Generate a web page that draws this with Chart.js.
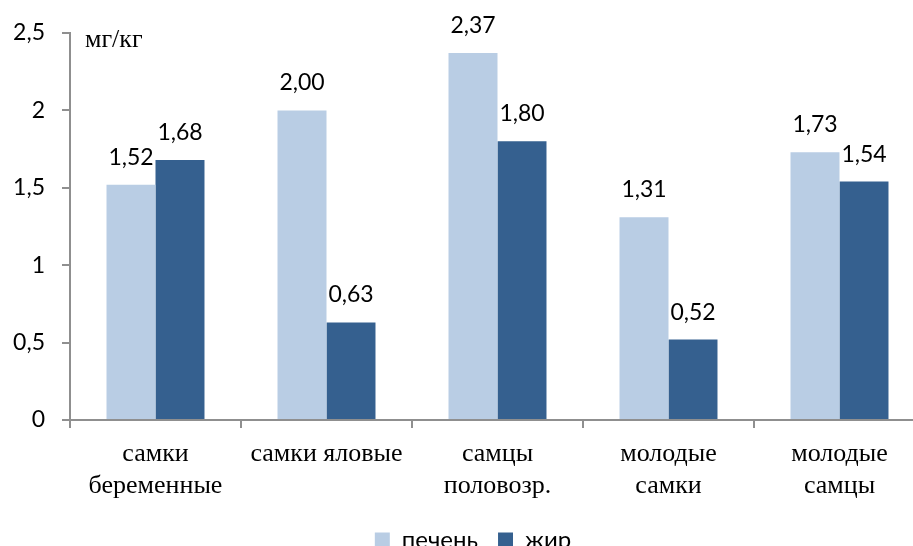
<!DOCTYPE html>
<html>
<head>
<meta charset="utf-8">
<script src="https://cdn.jsdelivr.net/npm/chart.js@4"></script>
<style>
  html, body { margin: 0; padding: 0; overflow: hidden; background: #fff; }
  #wrap { position: absolute; left: 0; top: 0; width: 951px; height: 562px; }
</style>
</head>
<body>
<div id="wrap"><canvas id="chart" width="951" height="562"></canvas></div>
<script>
// categories and values
const categories = [
  ['самки', 'беременные'],
  ['самки яловые'],
  ['самцы', 'половозр.'],
  ['молодые', 'самки'],
  ['молодые', 'самцы']
];
const liver = [1.52, 2.00, 2.37, 1.31, 1.73];
const fat = [1.68, 0.63, 1.80, 0.52, 1.54];
const seriesNames = ['печень', 'жир'];
const unitLabel = 'мг/кг';

const numFont = "Lato, 'Open Sans', sans-serif";
const serifFont = "'Liberation Serif', 'DejaVu Serif', serif";
const axisGray = '#8f8f8f';

function comma(v, digits) {
  return (digits == null ? String(v) : v.toFixed(digits)).replace('.', ',');
}

// value labels above bars + the unit text
const labelsPlugin = {
  id: 'barLabels',
  afterDatasetsDraw(chart) {
    const ctx = chart.ctx;
    ctx.save();
    ctx.font = '23px ' + numFont;
    ctx.fillStyle = '#000';
    ctx.textAlign = 'center';
    ctx.textBaseline = 'alphabetic';
    chart.data.datasets.forEach((ds, i) => {
      chart.getDatasetMeta(i).data.forEach((bar, j) => {
        ctx.fillText(comma(ds.data[j], 2), bar.x, bar.y - 20);
      });
    });
    const area = chart.chartArea;
    ctx.font = '26px ' + serifFont;
    ctx.textAlign = 'left';
    ctx.fillText(unitLabel, area.left + 15, area.top + 14);
    ctx.restore();
  }
};

new Chart(document.getElementById('chart'), {
  type: 'bar',
  data: {
    labels: categories,
    datasets: [
      { label: seriesNames[0], data: liver, backgroundColor: '#b9cde4', borderWidth: 0 },
      { label: seriesNames[1], data: fat, backgroundColor: '#35608f', borderWidth: 0 }
    ]
  },
  options: {
    responsive: false,
    animation: false,
    layout: { padding: { top: 33, right: 5, bottom: 0, left: 0 } },
    datasets: { bar: { categoryPercentage: 0.573, barPercentage: 1 } },
    scales: {
      x: {
        afterFit(scale) { scale.height = 88; },
        grid: { display: true, drawOnChartArea: false, tickLength: 8, color: axisGray, lineWidth: 2, offset: true },
        border: { display: true, color: axisGray, width: 2 },
        ticks: {
          color: '#000',
          padding: 11,
          maxRotation: 0,
          autoSkip: false,
          font: { family: serifFont, size: 26, lineHeight: 1.2 }
        }
      },
      y: {
        min: 0,
        max: 2.5,
        afterFit(scale) { scale.width = 70; },
        grid: { display: true, drawOnChartArea: false, tickLength: 8, color: axisGray, lineWidth: 2 },
        border: { display: true, color: axisGray, width: 2 },
        ticks: {
          stepSize: 0.5,
          color: '#000',
          padding: 17,
          font: { family: numFont, size: 23 },
          callback: (v) => comma(v)
        }
      },
      // empty strip on the right, only to reserve space past the cropped edge
      yRight: {
        type: 'linear',
        position: 'right',
        afterFit(scale) { scale.width = 21; },
        grid: { display: false },
        border: { display: false },
        ticks: { display: false }
      }
    },
    plugins: {
      legend: {
        position: 'bottom',
        labels: {
          color: '#000',
          boxWidth: 15,
          boxHeight: 15,
          padding: 20,
          font: { family: numFont, size: 24 }
        }
      },
      tooltip: { enabled: false }
    }
  },
  plugins: [labelsPlugin]
});
</script>
</body>
</html>
